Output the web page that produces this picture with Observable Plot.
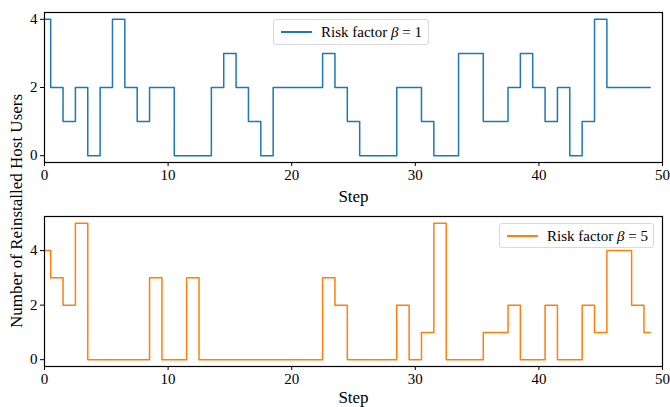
<!DOCTYPE html>
<html>
<head>
<meta charset="utf-8">
<script src="https://cdn.jsdelivr.net/npm/d3@7"></script>
<script src="https://cdn.jsdelivr.net/npm/@observablehq/plot@0.6"></script>
<style>
  html, body { margin: 0; padding: 0; background: #fff; }
  #wrap { position: relative; width: 670px; height: 407px; overflow: hidden; font-family: "Liberation Serif", "DejaVu Serif", serif; }
  #wrap svg { display: block; }
  .legend { position: absolute; border: 1px solid #d9d9d9; border-radius: 3px; background: rgba(255,255,255,0.8); box-sizing: border-box; font-size: 15px; color: #000; white-space: nowrap; }
  .legend .sw { position: absolute; height: 2px; }
  .legend .tx { position: absolute; line-height: 1; }
  #ylabel { position: absolute; left: 17px; top: 211px; transform: translate(-50%, -50%) rotate(-90deg); font-size: 17px; white-space: nowrap; color: #000; }
</style>
</head>
<body>
<div id="wrap"></div>
<script>
const steps = d3.range(0, 50);
const beta1 = [4,2,1,2,0,2,4,2,1,2, 2,0,0,0,2,3,2,1,0,2, 2,2,2,3,2,1,0,0,0,2, 2,1,0,0,3,3,1,1,2,3, 2,1,2,0,1,4,2,2,2,2];
const beta5 = [4,3,2,5,0,0,0,0,0,3, 0,0,3,0,0,0,0,0,0,0, 0,0,0,3,2,0,0,0,0,2, 0,1,5,0,0,0,1,1,2,0, 0,2,0,0,2,1,4,4,2,1];
const xTicks = [0, 10, 20, 30, 40, 50];
const yTicksTop = [0, 2, 4];
const yTicksBottom = [0, 2, 4];
const seriesTop = { label: "Risk factor ", beta: "1", color: "#1f77b4" };
const seriesBottom = { label: "Risk factor ", beta: "5", color: "#ff7f0e" };

const font = '"Liberation Serif", "DejaVu Serif", serif';

function panel(values, color, yDomain, yTicks, h, mt, mb, stepDy) {
  const data = steps.map((s, i) => ({ step: s, value: values[i] }));
  return Plot.plot({
    width: 670,
    height: h,
    marginLeft: 44,
    marginRight: 8,
    marginTop: mt,
    marginBottom: mb,
    style: { fontFamily: font, fontSize: "15px", color: "#000", background: "#fff", overflow: "visible" },
    x: { domain: [0, 50], label: null },
    y: { domain: yDomain, label: null },
    marks: [
      Plot.axisX({ ticks: xTicks, tickSize: 4, tickPadding: 3, fontSize: 15, tickFormat: d3.format("d"), label: null }),
      Plot.axisY({ ticks: yTicks, tickSize: 4, tickPadding: 3, fontSize: 15, tickFormat: d3.format("d"), label: null }),
      Plot.line(data, { x: "step", y: "value", curve: "step", stroke: color, strokeWidth: 1.5 }),
      Plot.frame({ stroke: "#000", strokeWidth: 1.2 }),
      Plot.text(["Step"], { frameAnchor: "bottom", dy: stepDy, fontSize: 17, fill: "#000", lineAnchor: "middle" })
    ]
  });
}

const wrap = document.getElementById("wrap");
wrap.appendChild(panel(beta1, seriesTop.color, [-0.2, 4.2], yTicksTop, 200, 12, 38, 34));
wrap.appendChild(panel(beta5, seriesBottom.color, [-0.25, 5.25], yTicksBottom, 207, 16, 41, 31));

function legend(s, left, top, w, h) {
  const d = document.createElement("div");
  d.className = "legend";
  Object.assign(d.style, { left: left + "px", top: top + "px", width: w + "px", height: h + "px" });
  const sw = document.createElement("div");
  sw.className = "sw";
  Object.assign(sw.style, { left: "7px", width: "31px", top: Math.round(h / 2 - 2) + "px", background: s.color });
  const tx = document.createElement("div");
  tx.className = "tx";
  Object.assign(tx.style, { left: "47px", top: Math.round(h / 2 - 8) + "px" });
  tx.innerHTML = s.label + '<i>β</i>&nbsp;=&nbsp;' + s.beta;
  d.appendChild(sw); d.appendChild(tx);
  wrap.appendChild(d);
}
legend(seriesTop, 273, 19, 156, 26);
legend(seriesBottom, 499, 223, 155, 25);

const yl = document.createElement("div");
yl.id = "ylabel";
yl.textContent = "Number of Reinstalled Host Users";
wrap.appendChild(yl);
</script>
</body>
</html>
